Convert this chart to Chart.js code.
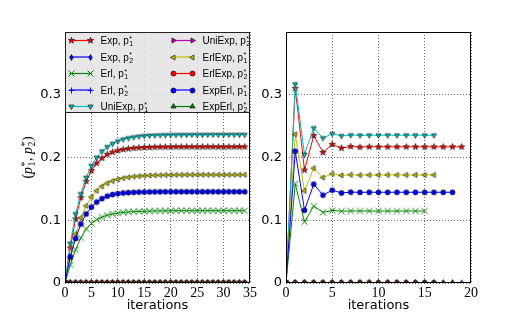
<!DOCTYPE html>
<html lang="en">
<head>
<meta charset="UTF-8">
<title>(p1*, p2*) vs iterations</title>
<script src="https://cdn.jsdelivr.net/npm/chart.js"></script>
<style>
  html, body { margin: 0; padding: 0; background: #fff; }
  #wrap { position: relative; width: 523px; height: 324px; }
  canvas { position: absolute; top: 0; }
</style>
</head>
<body>
<div id="wrap">
  <canvas id="left" width="262" height="324" style="left:0"></canvas>
  <canvas id="right" width="261" height="324" style="left:262px"></canvas>
</div>
<script>
// x values (iterations)
const iterLeft = [0,1,2,3,4,5,6,7,8,9,10,11,12,13,14,15,16,17,18,19,20,21,22,23,24,25,26,27,28,29,30,31,32,33,34];
const iterRight = [0,1,2,3,4,5,6,7,8,9,10,11,12,13,14,15,16,17,18,19];

// tick labels
const yTickLabels = ['0', '0.1', '0.2', '0.3'];
const xTickLeft = ['0', '5', '10', '15', '20', '25', '30', '35'];
const xTickRight = ['0', '5', '10', '15', '20'];

// legend names
const seriesNames = ['Exp', 'Exp', 'Erl', 'Erl', 'UniExp', 'UniExp', 'ErlExp', 'ErlExp', 'ExpErl', 'ExpErl'];
const seriesSub = ['1', '2', '1', '2', '1', '2', '1', '2', '1', '2'];

// left panel
const leftExpP1 = [0, 0.056, 0.102, 0.136, 0.162, 0.179, 0.191, 0.199, 0.205, 0.2085, 0.211, 0.2128, 0.214, 0.2149, 0.2155, 0.216, 0.2163, 0.2165, 0.2167, 0.2168, 0.2169, 0.217, 0.217, 0.217, 0.217, 0.217, 0.217, 0.217, 0.217, 0.217, 0.217, 0.217, 0.217, 0.217, 0.217];
const leftErlP1 = [0, 0.029, 0.053, 0.072, 0.086, 0.095, 0.101, 0.105, 0.108, 0.110, 0.1115, 0.1125, 0.1132, 0.1137, 0.1141, 0.1144, 0.1146, 0.1148, 0.1149, 0.115, 0.1151, 0.1152, 0.1152, 0.1152, 0.1152, 0.1152, 0.1152, 0.1152, 0.1152, 0.1152, 0.1152, 0.1152, 0.1152, 0.1152, 0.1152];
const leftUniExpP1 = [0, 0.063, 0.110, 0.142, 0.168, 0.187, 0.200, 0.210, 0.217, 0.222, 0.226, 0.229, 0.231, 0.2325, 0.2337, 0.2345, 0.235, 0.2354, 0.2357, 0.2359, 0.236, 0.2361, 0.2362, 0.2362, 0.2363, 0.2363, 0.2363, 0.2364, 0.2364, 0.2364, 0.2364, 0.2364, 0.2364, 0.2364, 0.2364];
const leftErlExpP1 = [0, 0.040, 0.078, 0.104, 0.123, 0.137, 0.147, 0.154, 0.159, 0.1625, 0.165, 0.167, 0.1685, 0.1695, 0.1703, 0.1709, 0.1713, 0.1716, 0.1719, 0.1721, 0.1722, 0.1723, 0.1724, 0.1725, 0.1725, 0.1725, 0.1725, 0.1725, 0.1725, 0.1725, 0.1725, 0.1725, 0.1725, 0.1725, 0.1725];
const leftExpErlP1 = [0, 0.042, 0.071, 0.094, 0.110, 0.121, 0.129, 0.1345, 0.1385, 0.141, 0.1425, 0.1435, 0.1441, 0.1446, 0.1449, 0.1451, 0.1452, 0.1453, 0.1454, 0.1455, 0.1455, 0.1455, 0.1455, 0.1455, 0.1455, 0.1455, 0.1455, 0.1455, 0.1455, 0.1455, 0.1455, 0.1455, 0.1455, 0.1455, 0.1455];
const leftP2 = [0,0,0,0,0,0,0,0,0,0,0,0,0,0,0,0,0,0,0,0,0,0,0,0,0,0,0,0,0,0,0,0,0,0,0];

// right panel
const rightExpP1 = [0, 0.31, 0.18, 0.235, 0.208, 0.221, 0.215, 0.2175, 0.2165, 0.217, 0.217, 0.217, 0.217, 0.217, 0.217, 0.217, 0.217, 0.217, 0.217, 0.217];
const rightExpP2 = [0,0,0,0,0,0,0,0,0,0,0,0,0,0,0,0,0,0,0,0];
const rightErlP1 = [0, 0.158, 0.0975, 0.1227, 0.1125, 0.1157, 0.1145, 0.1148, 0.1147, 0.1147, 0.1147, 0.1147, 0.1147, 0.1147, 0.1147, 0.1147];
const rightErlP2 = [0,0,0,0,0,0,0,0,0,0,0,0,0,0,0,0];
const rightUniExpP1 = [0, 0.317, 0.205, 0.247, 0.231, 0.238, 0.2345, 0.2357, 0.2353, 0.2355, 0.2355, 0.2355, 0.2355, 0.2355, 0.2355, 0.2355, 0.2355];
const rightUniExpP2 = [0,0,0,0,0,0,0,0,0,0,0,0,0,0,0,0,0];
const rightErlExpP1 = [0, 0.237, 0.147, 0.183, 0.168, 0.174, 0.1715, 0.1725, 0.172, 0.1722, 0.1722, 0.1722, 0.1722, 0.1722, 0.1722, 0.1722, 0.1722];
const rightErlExpP2 = [0,0,0,0,0,0,0,0,0,0,0,0,0,0,0,0,0];
const rightExpErlP1 = [0, 0.21, 0.116, 0.1575, 0.140, 0.148, 0.1435, 0.1448, 0.1445, 0.1446, 0.1446, 0.1446, 0.1446, 0.1446, 0.1446, 0.1446, 0.1446, 0.1446, 0.1446];
const rightExpErlP2 = [0,0,0,0,0,0,0,0,0,0,0,0,0,0,0,0,0,0,0];

const leftSeries = [leftExpP1, leftP2, leftErlP1, leftP2, leftUniExpP1, leftP2, leftErlExpP1, leftP2, leftExpErlP1, leftP2];
const rightSeries = [rightExpP1, rightExpP2, rightErlP1, rightErlP2, rightUniExpP1, rightUniExpP2, rightErlExpP1, rightErlExpP2, rightExpErlP1, rightExpErlP2];

// styles
const colors = ['#ff0000', '#0000ff', '#008000', '#0000ff', '#00bfbf', '#bf00bf', '#bfbf00', '#ff0000', '#0000ff', '#008000'];
const markerKinds = ['star', 'diamond', 'x', 'plus', 'tridown', 'triright', 'trileft', 'circle', 'circle', 'triup'];

function makeMarker(kind, color, r) {
  const s = 2 * Math.ceil(r) + 3;
  const c = document.createElement('canvas');
  c.width = s; c.height = s;
  const g = c.getContext('2d');
  g.translate(s / 2, s / 2);
  g.lineWidth = 0.6;
  g.strokeStyle = '#000';
  g.fillStyle = color;
  const poly = pts => {
    g.beginPath();
    pts.forEach(([px, py], i) => i ? g.lineTo(px, py) : g.moveTo(px, py));
    g.closePath(); g.fill(); g.stroke();
  };
  const tri = deg => poly([0, 120, 240].map(a => {
    const t = (a + deg) * Math.PI / 180;
    return [r * Math.cos(t), r * Math.sin(t)];
  }));
  switch (kind) {
    case 'circle': g.beginPath(); g.arc(0, 0, r * 0.85, 0, Math.PI * 2); g.fill(); g.stroke(); break;
    case 'triup': tri(-90); break;
    case 'tridown': tri(90); break;
    case 'trileft': tri(180); break;
    case 'triright': tri(0); break;
    case 'diamond': poly([[0, -r], [r * 0.6, 0], [0, r], [-r * 0.6, 0]]); break;
    case 'star': {
      const pts = [];
      for (let k = 0; k < 10; k++) {
        const rr = k % 2 ? r * 0.45 : r * 1.1;
        const t = -Math.PI / 2 + k * Math.PI / 5;
        pts.push([rr * Math.cos(t), rr * Math.sin(t)]);
      }
      poly(pts);
      break;
    }
    case 'x':
      g.strokeStyle = color; g.lineWidth = 1; g.beginPath();
      g.moveTo(-r, -r); g.lineTo(r, r); g.moveTo(r, -r); g.lineTo(-r, r); g.stroke();
      break;
    case 'plus':
      g.strokeStyle = color; g.lineWidth = 1; g.beginPath();
      g.moveTo(-r, 0); g.lineTo(r, 0); g.moveTo(0, -r); g.lineTo(0, r); g.stroke();
      break;
  }
  return c;
}

const markers = markerKinds.map((k, i) => makeMarker(k, colors[i], 3));

function buildDatasets(seriesList, iters) {
  return seriesList.map((vals, i) => ({
    label: seriesNames[i] + ', p' + seriesSub[i] + '*',
    data: vals.map((v, j) => ({ x: iters[j], y: v })),
    borderColor: colors[i],
    backgroundColor: colors[i],
    borderWidth: 1,
    pointStyle: markers[i],
    pointRadius: 3,
    pointHoverRadius: 3,
    tension: 0,
    fill: false,
    order: 20 - i
  }));
}

// text with a stacked superscript / subscript (p_1^*)
function richWidth(ctx, parts, size, fam) {
  let w = 0;
  for (const p of parts) {
    if (p.t !== undefined) {
      ctx.font = (p.it ? 'italic ' : '') + size + 'px ' + fam;
      w += ctx.measureText(p.t).width;
    } else {
      ctx.font = (size * 0.7) + 'px ' + fam;
      w += Math.max(ctx.measureText(p.sup).width, ctx.measureText(p.sub).width) + 1;
    }
  }
  return w;
}
function richDraw(ctx, parts, x, y, size, fam) {
  ctx.textBaseline = 'alphabetic';
  ctx.textAlign = 'left';
  for (const p of parts) {
    if (p.t !== undefined) {
      ctx.font = (p.it ? 'italic ' : '') + size + 'px ' + fam;
      ctx.fillText(p.t, x, y);
      x += ctx.measureText(p.t).width;
    } else {
      ctx.font = (size * 0.7) + 'px ' + fam;
      ctx.fillText(p.sup, x + 0.5, y - size * 0.32);
      ctx.fillText(p.sub, x + 0.5, y + size * 0.22);
      x += Math.max(ctx.measureText(p.sup).width, ctx.measureText(p.sub).width) + 1;
    }
  }
}

const framePlugin = {
  id: 'frame',
  afterDraw(chart) {
    const { ctx, chartArea: a } = chart;
    ctx.save();
    ctx.strokeStyle = '#000';
    ctx.lineWidth = 1;
    ctx.strokeRect(Math.round(a.left) + 0.5, Math.round(a.top) + 0.5,
      Math.round(a.right - a.left) - 1, Math.round(a.bottom - a.top) - 1);
    ctx.restore();
  }
};

const leftExtras = {
  id: 'leftExtras',
  afterDraw(chart) {
    const { ctx, chartArea: a } = chart;
    ctx.save();
    // y axis title
    const title = [{ t: '(' }, { t: 'p', it: true }, { sup: '*', sub: '1' }, { t: ', ' },
                   { t: 'p', it: true }, { sup: '*', sub: '2' }, { t: ')' }];
    const tfam = '"Liberation Serif", serif';
    const tw = richWidth(ctx, title, 14, tfam);
    ctx.translate(32, (a.top + a.bottom) / 2);
    ctx.rotate(-Math.PI / 2);
    ctx.fillStyle = '#000';
    richDraw(ctx, title, -tw / 2, 0, 14, tfam);
    ctx.restore();

    // legend
    ctx.save();
    const bx = Math.round(a.left) + 0.5, by = Math.round(a.top) + 0.5;
    const bw = 184, bh = 80;
    ctx.fillStyle = 'rgba(228,228,228,0.88)';
    ctx.fillRect(bx, by, bw, bh);
    ctx.strokeStyle = '#222';
    ctx.lineWidth = 1;
    ctx.strokeRect(bx, by, bw, bh);
    const fam = '"Liberation Sans", Arial, sans-serif';
    for (let i = 0; i < seriesNames.length; i++) {
      const col = Math.floor(i / 5), row = i % 5;
      const cy = by + 8 + row * 16.5;
      const hx = col === 0 ? bx + 4 : bx + 106;
      ctx.strokeStyle = colors[i];
      ctx.lineWidth = 1.2;
      ctx.beginPath();
      ctx.moveTo(hx, cy); ctx.lineTo(hx + 22, cy);
      ctx.stroke();
      const m = markers[i];
      ctx.drawImage(m, Math.round(hx + 1.5 - m.width / 2), Math.round(cy - m.height / 2));
      ctx.drawImage(m, Math.round(hx + 20.5 - m.width / 2), Math.round(cy - m.height / 2));
      ctx.fillStyle = '#000';
      const tx = col === 0 ? bx + 35 : bx + 137;
      richDraw(ctx, [{ t: seriesNames[i] + ', p' }, { sup: '*', sub: seriesSub[i] }], tx, cy + 3.5, 10, fam);
    }
    ctx.restore();
  }
};

function makeOptions(xMax, xLabels, yWidth, padRight) {
  return {
    responsive: false,
    animation: false,
    layout: { padding: { top: 32, right: padRight, left: 0, bottom: 0 } },
    plugins: { legend: { display: false }, tooltip: { enabled: false } },
    scales: {
      x: {
        type: 'linear', min: 0, max: xMax,
        afterFit(s) { s.height = 41; },
        ticks: {
          stepSize: 5, color: '#000', padding: 2, maxRotation: 0,
          font: { family: '"Liberation Serif", serif', size: 14 },
          callback: (v, i) => xLabels[i] !== undefined ? xLabels[i] : ''
        },
        grid: { color: '#444', lineWidth: 0.8, drawTicks: false },
        border: { display: false, dash: [1, 2] },
        title: {
          display: true, text: 'iterations', color: '#000',
          font: { family: '"DejaVu Sans", sans-serif', size: 13 },
          padding: { top: 0, bottom: 11 }
        }
      },
      y: {
        min: 0, max: 0.4,
        afterFit(s) { s.width = yWidth; },
        ticks: {
          stepSize: 0.1, color: '#000', padding: 4,
          font: { family: '"DejaVu Sans", sans-serif', size: 13 },
          callback: (v, i) => yTickLabels[i] !== undefined ? yTickLabels[i] : ''
        },
        grid: { color: '#444', lineWidth: 0.8, drawTicks: false },
        border: { display: false, dash: [1, 2] }
      }
    }
  };
}

new Chart(document.getElementById('left'), {
  type: 'line',
  data: { datasets: buildDatasets(leftSeries, iterLeft) },
  options: makeOptions(35, xTickLeft, 65, 12),
  plugins: [framePlugin, leftExtras]
});

new Chart(document.getElementById('right'), {
  type: 'line',
  data: { datasets: buildDatasets(rightSeries, iterRight) },
  options: makeOptions(20, xTickRight, 24, 52),
  plugins: [framePlugin]
});
</script>
</body>
</html>
